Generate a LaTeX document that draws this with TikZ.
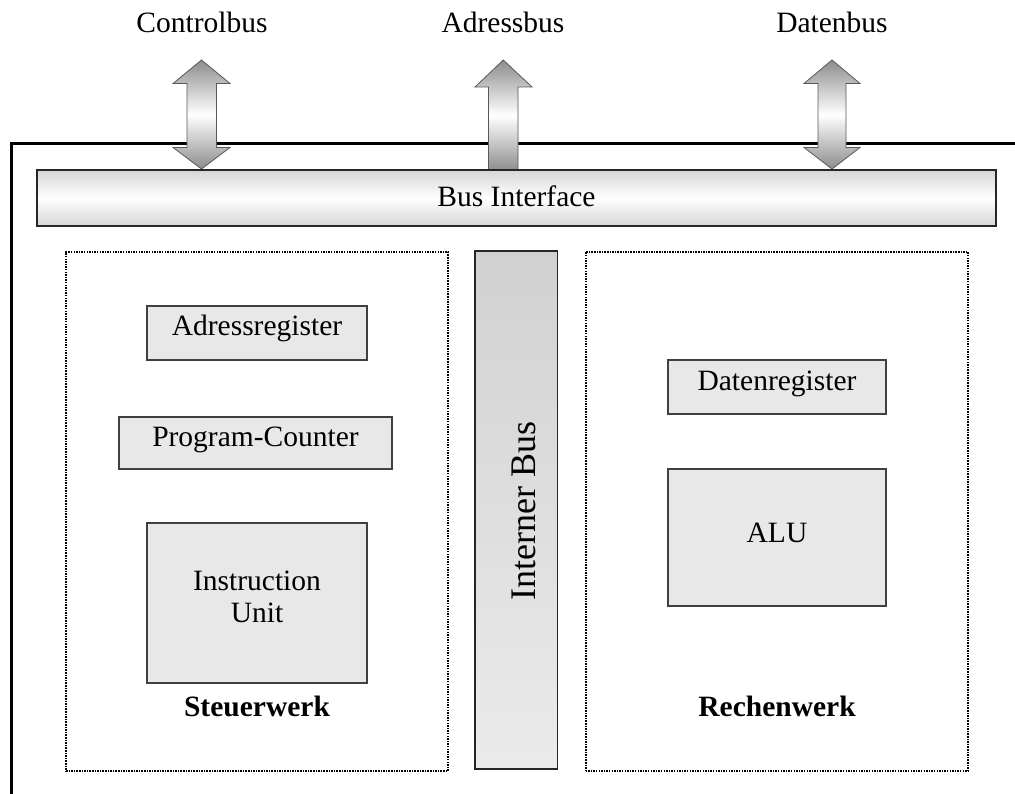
\documentclass[tikz,border=0pt]{standalone}
\usepackage{fontspec}
\setmainfont{Liberation Serif}
\begin{document}
\begin{tikzpicture}[x=1pt,y=-1pt,
  lbl/.style={font=\fontsize{29.5}{32}\selectfont, inner sep=0pt, anchor=base},
  boldlbl/.style={lbl, font=\fontsize{29.5}{32}\selectfont\bfseries},
  regbox/.style={draw=black!75, line width=1.3pt, fill=black!9, inner sep=0pt, outer sep=0pt, anchor=north west},
  unitbox/.style={draw=black, line width=2pt, dash pattern=on 1.5pt off 1.1pt, inner sep=0pt, outer sep=0pt, anchor=north west},
  ibusbox/.style={draw=black!85, line width=1.4pt, top color=black!18, bottom color=black!8, inner sep=0pt, outer sep=0pt, anchor=north west},
  ifbox/.style={draw=black!85, line width=1.4pt, top color=black!16, bottom color=black!16, middle color=white, inner sep=0pt, outer sep=0pt, anchor=north west},
  busarrow/.style={draw=black!65, line width=0.8pt, top color=black!45, bottom color=black!45, middle color=white},
  frameline/.style={line width=3.5pt},
]
\useasboundingbox (0,0) rectangle (1015,794);

% outer frame
\draw[frameline] (11.5,800) -- (11.5,143.5) -- (1020,143.5);

% bus arrows
\draw[busarrow] (201.5,60) -- (230,83.5) -- (216.5,83.5) -- (216.5,147.5) -- (230,147.5) -- (201.5,169) -- (173,147.5) -- (187,147.5) -- (187,83.5) -- (173,83.5) -- cycle;
\draw[busarrow] (503.3,60) -- (532,87) -- (518,87) -- (518,171) -- (488.5,171) -- (488.5,87) -- (475,87) -- cycle;
\draw[busarrow] (832,60) -- (860,83.5) -- (846,83.5) -- (846,147.5) -- (860,147.5) -- (832,169) -- (804,147.5) -- (818,147.5) -- (818,83.5) -- (804,83.5) -- cycle;

% bus labels
\node[lbl] (cbus) at (202,33) {Controlbus};
\node[lbl] (abus) at (503,33) {Adressbus};
\node[lbl] (dbus) at (832,33) {Datenbus};

% bus interface
\node[ifbox, minimum width=959pt, minimum height=56pt] (bif) at (37,170) {};
\node[lbl] (bift) at (516.5,207) {Bus Interface};

% units
\node[unitbox, minimum width=382pt, minimum height=519pt] (sw) at (66,252) {};
\node[ibusbox, minimum width=82.5pt, minimum height=518pt] (ib) at (475,251) {};
\node[unitbox, minimum width=382.5pt, minimum height=519pt] (rw) at (585.5,252) {};

\node[lbl, font=\fontsize{36}{40}\selectfont, rotate=90] (ibt) at (535,511) {Interner Bus};

% Steuerwerk contents
\node[regbox, minimum width=220pt, minimum height=54pt] (areg) at (147,306) {};
\node[lbl] (aregt) at (257,336) {Adressregister};
\node[regbox, minimum width=273pt, minimum height=52pt] (pc) at (119,417) {};
\node[lbl] (pct) at (255.5,446) {Program-Counter};
\node[regbox, minimum width=220pt, minimum height=160pt] (iu) at (147,523) {};
\node[lbl] (iut1) at (257,590) {Instruction};
\node[lbl] (iut2) at (257,622) {Unit};
\node[boldlbl] (swt) at (257,716) {Steuerwerk};

% Rechenwerk contents
\node[regbox, minimum width=218pt, minimum height=54pt] (dreg) at (668,360) {};
\node[lbl] (dregt) at (777,390) {Datenregister};
\node[regbox, minimum width=218pt, minimum height=137pt] (alu) at (668,469) {};
\node[lbl] (alut) at (777,542) {ALU};
\node[boldlbl] (rwt) at (777,716) {Rechenwerk};
\end{tikzpicture}
\end{document}
